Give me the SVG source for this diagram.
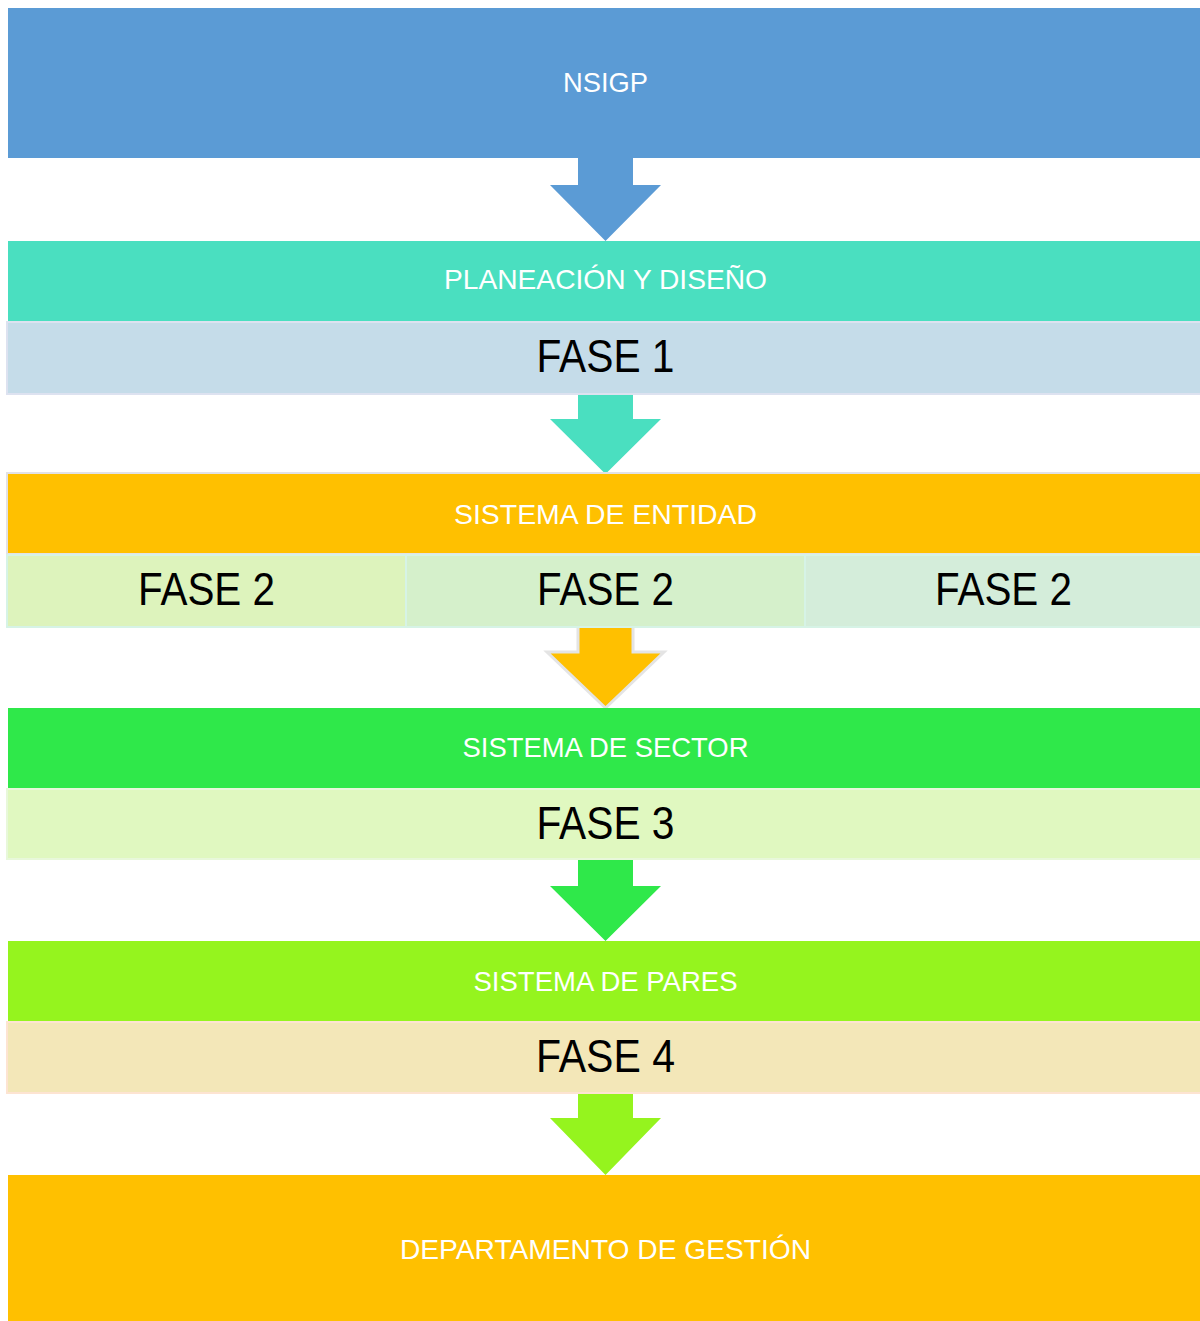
<svg xmlns="http://www.w3.org/2000/svg" width="1200" height="1321" viewBox="0 0 1200 1321">
  <style>
    .head { font-family: "Liberation Sans", Arial, sans-serif; font-size: 28px; fill: #FFFFFF; text-anchor: middle; }
    .phase { font-family: "Liberation Sans", Arial, sans-serif; font-size: 46px; fill: #000000; text-anchor: middle; }
  </style>
  <rect width="1200" height="1321" fill="#FFFFFF"/>

  <!-- Block arrows between stages (drawn first so the boxes cover the stem joints) -->
  <g id="connectors">
    <polygon fill="#5B9BD5" points="578,150 633,150 633,185 661,185 605.5,241 550,185 578,185"/>
    <polygon fill="#4ADFC0" points="578,390 633,390 633,419 661,419 605.5,474 550,419 578,419"/>
    <polygon fill="#FFC000" stroke="#E4E4E4" stroke-width="3" points="578,620 633,620 633,652 664,652 605.5,708 547,652 578,652"/>
    <polygon fill="#2FE84A" points="578,855 633,855 633,886 661,886 605.5,941 550,886 578,886"/>
    <polygon fill="#95F41E" points="578,1090 633,1090 633,1118 661,1118 605.5,1175 550,1118 578,1118"/>
  </g>

  <!-- Top: NSIGP -->
  <g id="nsigp">
    <rect x="8" y="8" width="1200" height="150" fill="#5B9BD5"/>
    <text class="head" x="605.5" y="92" textLength="85" lengthAdjust="spacingAndGlyphs">NSIGP</text>
  </g>

  <!-- Stage 1 -->
  <g id="planeacion">
    <rect x="8" y="241" width="1200" height="80" fill="#4ADFC0"/>
    <text class="head" x="605.5" y="289" textLength="323" lengthAdjust="spacingAndGlyphs">PLANEACIÓN Y DISEÑO</text>
  </g>
  <g id="fase1">
    <rect x="7" y="322" width="1200" height="72" fill="#C5DCE9" stroke="#DDE2F0" stroke-width="2"/>
    <text class="phase" x="605.5" y="372" textLength="138" lengthAdjust="spacingAndGlyphs">FASE 1</text>
  </g>

  <!-- Stage 2 -->
  <g id="entidad">
    <rect x="7" y="473" width="1200" height="81" fill="#FFC000" stroke="#E2E2E6" stroke-width="2"/>
    <text class="head" x="605.5" y="524" textLength="303" lengthAdjust="spacingAndGlyphs">SISTEMA DE ENTIDAD</text>
  </g>
  <g id="fase2a">
    <rect x="7" y="555" width="399" height="72" fill="#DDF3BC" stroke="#D6F3E6" stroke-width="2"/>
    <text class="phase" x="206.5" y="605" textLength="137" lengthAdjust="spacingAndGlyphs">FASE 2</text>
  </g>
  <g id="fase2b">
    <rect x="406" y="555" width="399" height="72" fill="#D5F0CB" stroke="#D6F3E6" stroke-width="2"/>
    <text class="phase" x="605.5" y="605" textLength="137" lengthAdjust="spacingAndGlyphs">FASE 2</text>
  </g>
  <g id="fase2c">
    <rect x="805" y="555" width="400" height="72" fill="#D4EDDA" stroke="#D6F3E6" stroke-width="2"/>
    <text class="phase" x="1003.5" y="605" textLength="137" lengthAdjust="spacingAndGlyphs">FASE 2</text>
  </g>

  <!-- Stage 3 -->
  <g id="sector">
    <rect x="8" y="708" width="1200" height="80" fill="#2FE84A"/>
    <text class="head" x="605.5" y="757" textLength="286" lengthAdjust="spacingAndGlyphs">SISTEMA DE SECTOR</text>
  </g>
  <g id="fase3">
    <rect x="7" y="789" width="1200" height="70" fill="#E0F8C0" stroke="#E8F8DA" stroke-width="2"/>
    <text class="phase" x="605.5" y="839" textLength="138" lengthAdjust="spacingAndGlyphs">FASE 3</text>
  </g>

  <!-- Stage 4 -->
  <g id="pares">
    <rect x="8" y="941" width="1200" height="80" fill="#95F41E"/>
    <text class="head" x="605.5" y="991" textLength="264" lengthAdjust="spacingAndGlyphs">SISTEMA DE PARES</text>
  </g>
  <g id="fase4">
    <rect x="7" y="1022" width="1200" height="71" fill="#F3E7B8" stroke="#FDE4D2" stroke-width="2"/>
    <text class="phase" x="605.5" y="1072" textLength="139" lengthAdjust="spacingAndGlyphs">FASE 4</text>
  </g>

  <!-- Bottom: department -->
  <g id="departamento">
    <rect x="8" y="1175" width="1200" height="146" fill="#FFC000"/>
    <text class="head" x="605.5" y="1259" textLength="411" lengthAdjust="spacingAndGlyphs">DEPARTAMENTO DE GESTIÓN</text>
  </g>
</svg>
